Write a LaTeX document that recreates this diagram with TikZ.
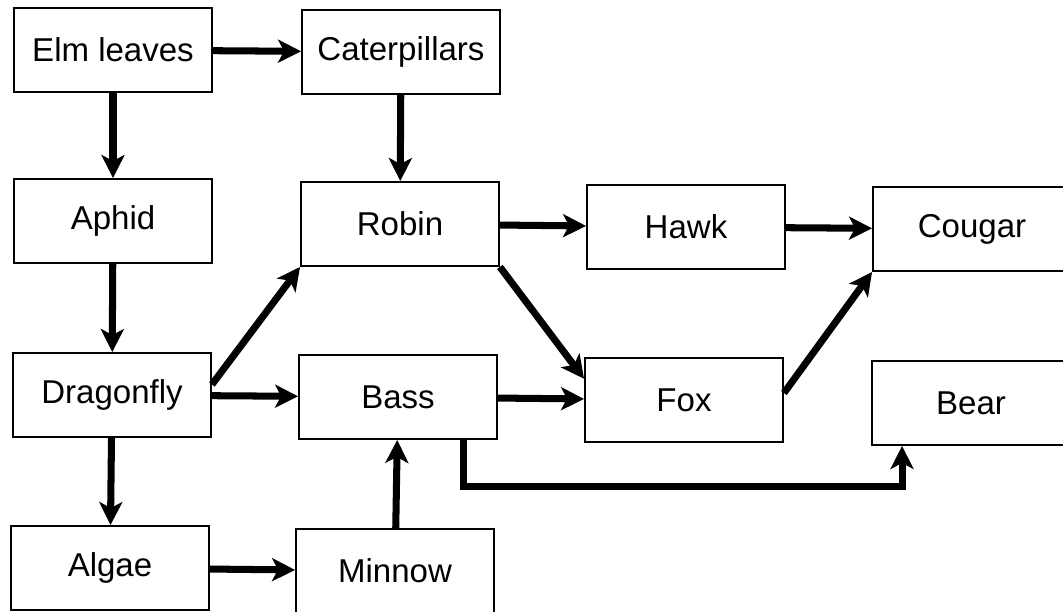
\documentclass[tikz,border=0pt]{standalone}
\usepackage{fontspec}
\setmainfont{Liberation Sans}
\usepackage{tikz}
\usetikzlibrary{arrows.meta}
\usetikzlibrary{calc}

\begin{document}
\begin{tikzpicture}[x=0.02cm, y=-0.02cm,
  species/.style={draw, line width=1.1pt, minimum width=3.96cm, minimum height=1.68cm,
                  inner sep=0pt, font=\fontsize{18.8}{22}\selectfont},
  feeds/.style={line width=4pt, -{Stealth[length=0.46cm, width=0.46cm, inset=0.12cm]}}]

\useasboundingbox (0,0) rectangle (1063,612);

%---------------------------------------
% Organisms
%---------------------------------------
\node[species] (elm)         at (113,50)  {Elm leaves};
\node[species] (caterpillar) at (401,52)  {Caterpillars};

\node[species] (aphid)  at (113,221) {Aphid};
\node[species] (robin)  at (400,224) {Robin};
\node[species] (hawk)   at (686,227) {Hawk};
\node[species] (cougar) at (972,229) {Cougar};

\node[species] (dragonfly) at (112,395) {Dragonfly};
\node[species] (bass)      at (398,397) {Bass};
\node[species] (fox)       at (684,400) {Fox};
\node[species] (bear)      at (971,403) {Bear};

\node[species] (algae)  at (110,568) {Algae};
\node[species] (minnow) at (395,571) {Minnow};

%---------------------------------------
% Who is eaten by whom
%---------------------------------------
\draw[feeds] (elm) -- (caterpillar);
\draw[feeds] (elm) -- (aphid);
\draw[feeds] (caterpillar) -- (robin);
\draw[feeds] (aphid) -- (dragonfly);

\draw[feeds] (dragonfly.6) -- (robin.south west);
\draw[feeds] (dragonfly) -- (bass);
\draw[feeds] (dragonfly) -- (algae);
\draw[feeds] (algae) -- (minnow);
\draw[feeds] (minnow) -- (bass);

\draw[feeds] (robin) -- (hawk);
\draw[feeds] (robin.south east) -- (fox.168);
\draw[feeds] (bass) -- (fox);
\draw[feeds] (hawk) -- (cougar);
\draw[feeds] (fox.4) -- (cougar.south west);

% Bass down and round to Bear
\draw[feeds] ([xshift=-0.68cm]bass.south east) -- ++(0,47) -| ([xshift=0.62cm]bear.south west);

\end{tikzpicture}
\end{document}
